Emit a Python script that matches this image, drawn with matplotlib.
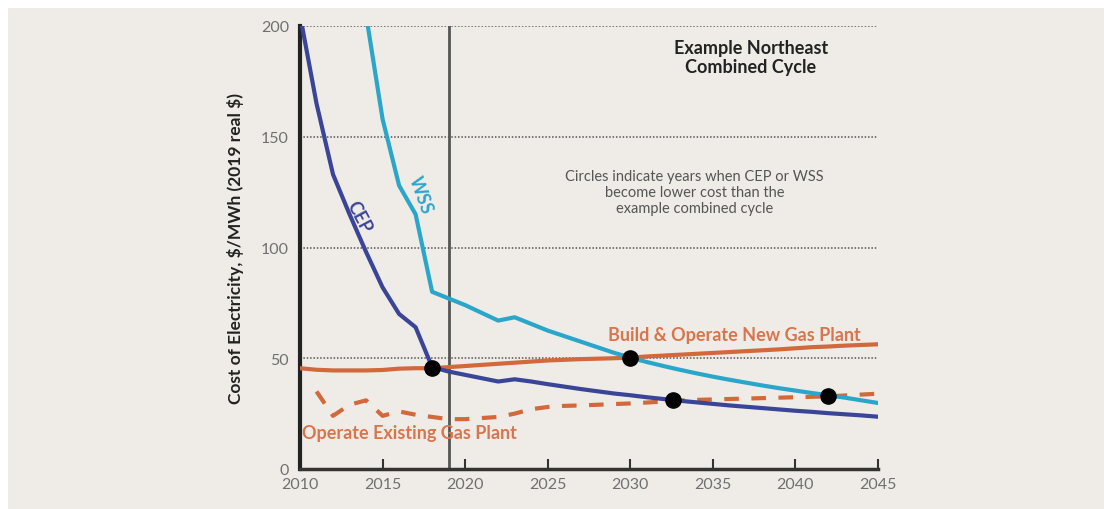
import matplotlib.pyplot as plt
import matplotlib.patches as patches

plt.rcParams['font.family'] = ['Lato', 'DejaVu Sans']

# data ($/MWh, 2019 real $)
cep_years = list(range(2010, 2046))
cep = [205, 165, 133, 115, 98, 82, 70, 64, 46, 44, 42.5, 41, 39.5, 40.5,
       39.5, 38.3, 37.2, 36.1, 35.1, 34.1, 33.3, 32.4, 31.6, 30.8, 30.1, 29.4,
       28.7, 28.1, 27.5, 26.9, 26.3, 25.8, 25.2, 24.7, 24.2, 23.6]

wss_years = list(range(2014, 2046))
wss = [205, 158, 128, 115, 80, 77, 74, 70.5, 67, 68.5, 65.5, 62.5, 60, 57.5,
       55, 52.5, 50.3, 48.3, 46.5, 44.8, 43.2, 41.7, 40.3, 39, 37.7, 36.5,
       35.4, 34.3, 33.3, 32.2, 31.0, 29.8]

new_gas_years = list(range(2010, 2046))
new_gas = [45.5, 44.8, 44.5, 44.5, 44.5, 44.7, 45.3, 45.5, 45.5, 46, 46.5, 47,
           47.5, 48, 48.5, 49, 49.3, 49.6, 49.8, 50, 50.3, 50.8, 51.2, 51.6, 52,
           52.4, 52.8, 53.2, 53.6, 54, 54.5, 55, 55.3, 55.7, 56, 56.3]

old_gas_years = list(range(2011, 2046))
old_gas = [35, 24, 29, 31, 24, 26, 24.5, 23.5, 22.5, 22.5, 23, 23.5, 25, 27,
           28, 28.5, 28.7, 29, 29.3, 29.6, 30, 30.5, 30.9, 31.2, 31.4, 31.6,
           31.8, 32, 32.2, 32.4, 32.6, 32.8, 33.2, 33.6, 34]

cross_years = [2018, 2030, 2032.6, 2042]
cross_vals = [45.5, 50.3, 31, 33]

x_ticks = [2010, 2015, 2020, 2025, 2030, 2035, 2040, 2045]
y_ticks = [0, 50, 100, 150, 200]

cep_col = "#3b4597"
wss_col = "#2ba6cb"
gas_col = "#d2683b"
gas_txt = "#d9754c"
bg = "#efece7"

fig = plt.figure(figsize=(11.04, 5.1), dpi=100, facecolor=bg)
# white strips at top and left edge of the original image
fig.patches.append(patches.Rectangle((0, 501 / 510), 1, 9 / 510, transform=fig.transFigure,
                                     facecolor="white", edgecolor="none", zorder=-10))
fig.patches.append(patches.Rectangle((0, 0), 8 / 1104, 1, transform=fig.transFigure,
                                     facecolor="white", edgecolor="none", zorder=-10))
ax = fig.add_axes([300 / 1104, 40 / 510, 578 / 1104, 443 / 510])
ax.set_facecolor("none")

ax.set_xlim(2010, 2045)
ax.set_ylim(0, 200)

for v in y_ticks[1:]:
    ax.plot([2010, 2045], [v, v], color="#555555", lw=1.1, ls=(0, (1, 1.2)), zorder=1)
ax.plot([2019, 2019], [0, 200], color="#555555", lw=2, zorder=2)

ax.plot(old_gas_years, old_gas, color=gas_col, lw=3, ls=(0, (3.5, 3)), zorder=3)
ax.plot(new_gas_years, new_gas, color=gas_col, lw=3, zorder=3)
ax.plot(wss_years, wss, color=wss_col, lw=3, zorder=4)
ax.plot(cep_years, cep, color=cep_col, lw=3, zorder=4)
ax.scatter(cross_years, cross_vals, s=120, color="black", zorder=6)

for s in ["top", "right"]:
    ax.spines[s].set_visible(False)
ax.spines["left"].set_linewidth(3)
ax.spines["left"].set_color("#222222")
ax.spines["bottom"].set_linewidth(2.5)
ax.spines["bottom"].set_color("#333333")

ax.set_xticks(x_ticks)
ax.set_yticks(y_ticks)
ax.tick_params(axis="x", direction="in", length=7, width=1.5, color="#333333",
               labelsize=11.5, labelcolor="#707070", pad=6)
ax.tick_params(axis="y", length=0, labelsize=11.5, labelcolor="#707070", pad=8)

ax.set_ylabel("Cost of Electricity, \\$/MWh (2019 real \\$)", fontsize=12.5,
              fontweight="bold", color="#222222", labelpad=12)

ax.text(2013.6, 114, "CEP", color=cep_col, fontsize=13, fontweight="bold",
        rotation=-62, ha="center", va="center")
ax.text(2017.3, 124, "WSS", color=wss_col, fontsize=13, fontweight="bold",
        rotation=-70, ha="center", va="center")
ax.text(2036.3, 60.5, "Build & Operate New Gas Plant", color=gas_txt,
        fontsize=13, fontweight="bold", ha="center", va="center")
ax.text(2010.1, 16.3, "Operate Existing Gas Plant", color=gas_txt,
        fontsize=13, fontweight="bold", ha="left", va="center")
ax.text(2037.3, 186, "Example Northeast\nCombined Cycle", color="#222222",
        fontsize=13, fontweight="bold", ha="center", va="center", linespacing=1.2)
ax.text(2033.9, 125, "Circles indicate years when CEP or WSS\nbecome lower cost than the\nexample combined cycle",
        color="#555555", fontsize=10.5, ha="center", va="center", linespacing=1.15)

fig.savefig("out.png", dpi=100, facecolor=fig.get_facecolor())
